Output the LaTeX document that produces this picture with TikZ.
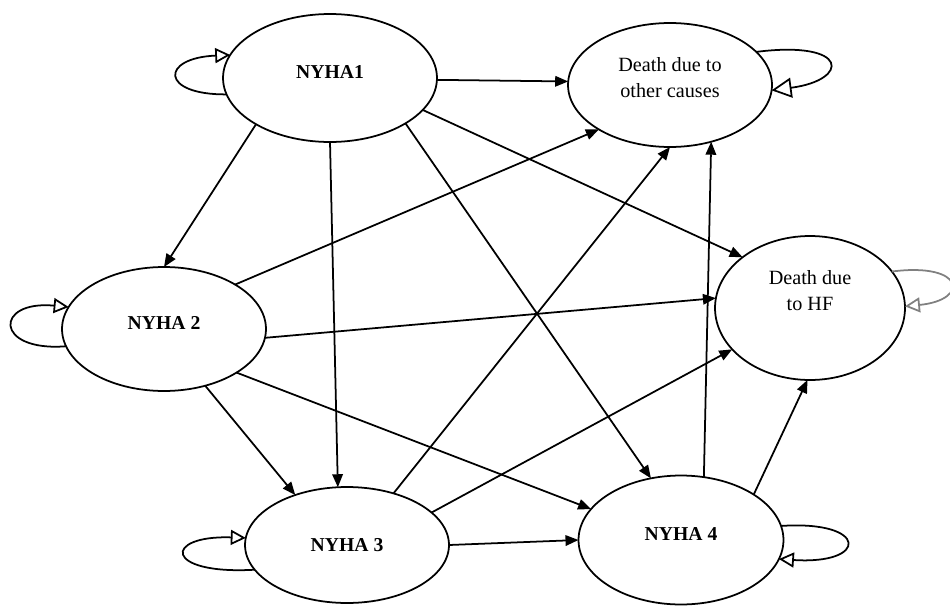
\documentclass[tikz,border=0pt]{standalone}
\usepackage{fontspec}
\setmainfont{Liberation Serif}
\usetikzlibrary{shapes.geometric,arrows.meta}
\begin{document}
\begin{tikzpicture}[x=0.02cm,y=-0.02cm,
    state/.style={draw,ellipse,line width=1pt,inner sep=0pt,outer sep=0pt,font=\fontsize{11.2}{14}\selectfont\bfseries},
    absorb/.style={state,align=center,font=\fontsize{11.5}{14.8}\selectfont},
    edge/.style={line width=1pt,-{Triangle[length=0.26cm,width=0.21cm]}},
    selfloop/.style={line width=1pt,-{Triangle[open,length=0.3cm,width=0.3cm]}}]
    \useasboundingbox (0,0) rectangle (950,612);
    \node[state,minimum width=4.28cm,minimum height=2.56cm,text depth=0.24cm] (nyha1) at (330,78) {NYHA1};
    \node[absorb,minimum width=4.08cm,minimum height=2.48cm,text depth=0.32cm] (other) at (670,85) {Death due to\\other causes};
    \node[state,minimum width=4.08cm,minimum height=2.48cm,text depth=0.26cm] (nyha2) at (164,329) {NYHA 2};
    \node[absorb,minimum width=3.8cm,minimum height=2.88cm,text depth=0.7cm] (hf) at (810,308) {Death due\\to HF};
    \node[state,minimum width=4.08cm,minimum height=2.32cm] (nyha3) at (347,545) {NYHA 3};
    \node[state,minimum width=4.1cm,minimum height=2.58cm,text depth=0.26cm] (nyha4) at (681,540) {NYHA 4};
    \draw[edge] (nyha1.-1)--(other.178);
    \draw[edge] (nyha1.-148)--(nyha2.90);
    \draw[edge] (nyha1.-90)--(nyha3.99);
    \draw[edge] (nyha1.-31)--(nyha4.116);
    \draw[edge] (nyha1.-19)--(hf.143);
    \draw[edge] (nyha2.32)--(other.-148);
    \draw[edge] (nyha2.-5)--(hf.174);
    \draw[edge] (nyha2.-54)--(nyha3.136);
    \draw[edge] (nyha2.-31)--(nyha4.161);
    \draw[edge] (nyha3.48)--(other.-90);
    \draw[edge] (nyha3.21)--(hf.-152);
    \draw[edge] (nyha3.0)--(nyha4.180);
    \draw[edge] (nyha4.70)--(other.-54);
    \draw[edge] (nyha4.32)--(hf.-92);
    \draw[selfloop] (nyha1.189) .. controls (160,95) and (160,58) .. (nyha1.167);
    \draw[selfloop,-{Triangle[open,length=0.4cm,width=0.4cm]}] (other.21) .. controls (850,40) and (850,80) .. (other.-3);
    \draw[selfloop] (nyha2.190) .. controls (-6,352) and (-6,300) .. (nyha2.167);
    \draw[selfloop,gray] (hf.24) .. controls (965,262) and (970,300) .. (hf.1);
    \draw[selfloop] (nyha3.195) .. controls (163,575) and (163,535) .. (nyha3.176);
    \draw[selfloop] (nyha4.8) .. controls (869,520) and (869,565) .. (nyha4.-11);
\end{tikzpicture}
\end{document}
